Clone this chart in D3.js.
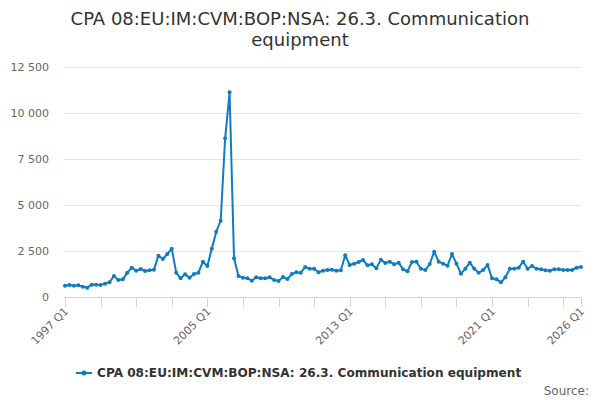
<!DOCTYPE html>
<html>
<head>
<meta charset="utf-8">
<script src="https://cdn.jsdelivr.net/npm/d3@7"></script>
<style>
  body { margin: 0; background: #fff; }
  text { font-family: "DejaVu Sans", sans-serif; }
</style>
</head>
<body>
<div id="chart"></div>
<script>
// quarterly values, 1997 Q1 .. 2026 Q1
const startYear = 1997;
const values = [
  616, 652, 616, 634, 562, 507, 670, 670, 652, 725,
  797, 1141, 924, 960, 1322, 1594, 1431, 1522, 1413, 1449,
  1485, 2246, 2065, 2337, 2627, 1322, 1014, 1232, 1051, 1250,
  1322, 1920, 1685, 2627, 3551, 4149, 8625, 11125, 2101, 1141,
  1051, 1014, 888, 1069, 1014, 1014, 1069, 924, 870, 1087,
  978, 1250, 1341, 1322, 1630, 1540, 1540, 1341, 1431, 1467,
  1485, 1431, 1449, 2264, 1739, 1812, 1902, 2011, 1721, 1775,
  1558, 2029, 1848, 1920, 1775, 1866, 1504, 1400, 1902, 1920,
  1540, 1467, 1793, 2464, 1920, 1812, 1703, 2337, 1812, 1268,
  1540, 1866, 1540, 1322, 1467, 1739, 1014, 960, 797, 1069,
  1540, 1540, 1594, 1920, 1540, 1685, 1540, 1504, 1449, 1431,
  1504, 1504, 1467, 1467, 1467, 1594, 1630
];
const quarters = values.map((v, i) => `${startYear + Math.floor(i / 4)} Q${i % 4 + 1}`);
const labelTicks = ['1997 Q1', '2005 Q1', '2013 Q1', '2021 Q1', '2026 Q1'];
const minorTicks = d3.range(1997, 2026, 2).map(y => `${y} Q1`).concat(['2026 Q1']);
const yTicks = [0, 2500, 5000, 7500, 10000, 12500];
const seriesName = 'CPA 08:EU:IM:CVM:BOP:NSA: 26.3. Communication equipment';
const titleLines = ['CPA 08:EU:IM:CVM:BOP:NSA: 26.3. Communication', 'equipment'];

const width = 600, height = 400;
const margin = {top: 67, right: 19, bottom: 103, left: 65};
const color = '#0f7cc1';

const svg = d3.select('#chart').append('svg')
    .attr('width', width)
    .attr('height', height);

const x = d3.scalePoint()
    .domain(quarters)
    .range([margin.left, width - margin.right]);

const y = d3.scaleLinear()
    .domain([0, 12500])
    .range([height - margin.bottom, margin.top]);

const fmt = v => d3.format(',')(v).replace(/,/g, ' ');

// title
svg.append('text')
    .attr('x', 300)
    .attr('y', 25)
    .attr('text-anchor', 'middle')
    .attr('fill', '#333')
    .style('font-size', '18px')
  .selectAll('tspan')
    .data(titleLines)
  .join('tspan')
    .attr('x', 300)
    .attr('dy', (d, i) => i == 0 ? 0 : 21)
    .text(d => d);

// grid + y labels
const yAxis = svg.append('g');
yAxis.selectAll('line')
    .data(yTicks.filter(d => d > 0))
  .join('line')
    .attr('x1', margin.left - 1)
    .attr('x2', width - margin.right)
    .attr('y1', d => y(d) + 0.5)
    .attr('y2', d => y(d) + 0.5)
    .attr('stroke', '#e6e6e6');

yAxis.selectAll('text')
    .data(yTicks)
  .join('text')
    .attr('x', 49)
    .attr('y', d => y(d))
    .attr('dy', '0.35em')
    .attr('text-anchor', 'end')
    .attr('fill', '#666')
    .style('font-size', '11px')
    .text(fmt);

// x axis
const xAxis = svg.append('g');
xAxis.append('line')
    .attr('x1', margin.left - 1)
    .attr('x2', width - margin.right)
    .attr('y1', y(0) + 0.5)
    .attr('y2', y(0) + 0.5)
    .attr('stroke', '#ccd6eb');

xAxis.selectAll('.tick')
    .data(minorTicks)
  .join('line')
    .attr('class', 'tick')
    .attr('x1', d => Math.round(x(d)) + 0.5)
    .attr('x2', d => Math.round(x(d)) + 0.5)
    .attr('y1', y(0))
    .attr('y2', y(0) + 10)
    .attr('stroke', '#ccd6eb');

xAxis.selectAll('.xlabel')
    .data(labelTicks)
  .join('text')
    .attr('class', 'xlabel')
    .attr('text-anchor', 'end')
    .attr('fill', '#666')
    .style('font-size', '11px')
    .attr('transform', d => `translate(${x(d) + 4},${y(0) + 15}) rotate(-45)`)
    .text(d => d);

// line + markers
const line = d3.line()
    .x((d, i) => x(quarters[i]))
    .y(d => y(d));

svg.append('path')
    .datum(values)
    .attr('fill', 'none')
    .attr('stroke', color)
    .attr('stroke-width', 2)
    .attr('stroke-linejoin', 'round')
    .attr('d', line);

svg.selectAll('.dot')
    .data(values)
  .join('circle')
    .attr('class', 'dot')
    .attr('cx', (d, i) => x(quarters[i]))
    .attr('cy', d => y(d))
    .attr('r', 2)
    .attr('fill', color);

// legend
const legend = svg.append('g')
    .attr('transform', 'translate(76,373)');
legend.append('line')
    .attr('x1', 0).attr('x2', 16)
    .attr('stroke', color)
    .attr('stroke-width', 2);
legend.append('circle')
    .attr('cx', 8)
    .attr('r', 2.5)
    .attr('fill', color);
legend.append('text')
    .attr('x', 21)
    .attr('dy', '0.35em')
    .attr('fill', '#333')
    .style('font-size', '12.1px')
    .style('font-weight', 'bold')
    .text(seriesName);

svg.append('text')
    .attr('x', 589)
    .attr('y', 395)
    .attr('text-anchor', 'end')
    .attr('fill', '#666')
    .style('font-size', '12px')
    .text('Source:');
</script>
</body>
</html>
